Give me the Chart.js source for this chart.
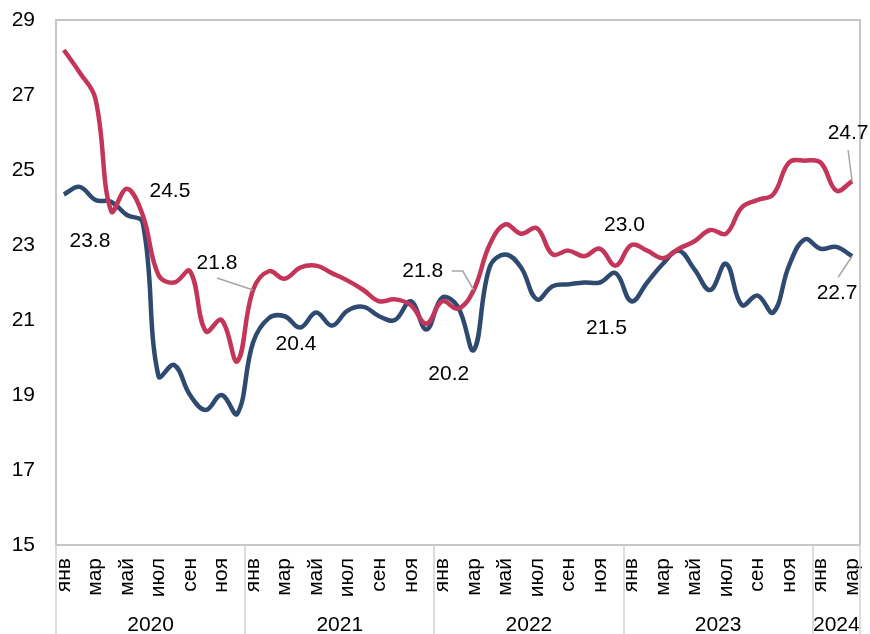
<!DOCTYPE html>
<html>
<head>
<meta charset="utf-8">
<script src="https://cdn.jsdelivr.net/npm/chart.js@4.4.1/dist/chart.umd.min.js"></script>
<style>
    html, body { margin: 0; padding: 0; background: #fff; }
    #wrap { width: 870px; height: 634px; position: relative; }
</style>
</head>
<body>
<div id="wrap"><canvas id="chart"></canvas></div>
<script>
const years = ['2020', '2021', '2022', '2023', '2024']
const monthsInYear = [12, 12, 12, 12, 3]
const monthNames = ['янв', 'фев', 'мар', 'апр', 'май', 'июн', 'июл', 'авг', 'сен', 'окт', 'ноя', 'дек']
const yTicks = [15, 17, 19, 21, 23, 25, 27, 29]

// Jan 2020 .. Mar 2024
const redValues = [
    28.2, 27.6, 26.9, 23.9, 24.5, 23.8, 22.2, 22.0, 22.3, 20.7, 21.0, 19.9,
    21.8, 22.3, 22.1, 22.4, 22.45, 22.25, 22.05, 21.8, 21.5, 21.55, 21.4, 20.9,
    21.5, 21.3, 21.8, 23.0, 23.55, 23.3, 23.45, 22.75, 22.85, 22.7, 22.9, 22.45,
    23.0, 22.85, 22.65, 22.9, 23.1, 23.4, 23.3, 24.0, 24.2, 24.35, 25.2, 25.25,
    25.2, 24.45, 24.7
]
const blueValues = [
    24.35, 24.55, 24.2, 24.15, 23.8, 23.6, 19.5, 19.8, 19.0, 18.6, 19.0, 18.5,
    20.4, 21.05, 21.1, 20.8, 21.2, 20.85, 21.25, 21.35, 21.1, 21.0, 21.5, 20.75,
    21.6, 21.35, 20.2, 22.4, 22.75, 22.4, 21.55, 21.9, 21.95, 22.0, 22.0, 22.25,
    21.5, 22.0, 22.5, 22.85, 22.35, 21.8, 22.5, 21.4, 21.65, 21.2, 22.45, 23.15,
    22.9, 22.95, 22.7
]

// which points get a value label (dataset, index)
const labelledPoints = [
    [0, 4], [1, 4], [0, 12], [1, 12], [0, 26], [1, 26], [0, 36], [1, 36], [0, 50], [1, 50]
]
// where each label sits relative to its point, and its leader line if any
const labelPlacement = [
    {dx: 43, dy: 2},
    {dx: -37, dy: 26},
    {dx: -36, dy: -27, leader: [[-36, -12], [0, 0]]},
    {dx: 43, dy: 2},
    {dx: -51, dy: -19, leader: [[-22, -19], [-11, -19], [0, 0]]},
    {dx: -25, dy: 24},
    {dx: -7, dy: -20},
    {dx: -25, dy: 27},
    {dx: -4, dy: -48, leader: [[-4, -31], [0, 0]]},
    {dx: -15, dy: 37, leader: [[-14, 21], [0, 0]]}
]

const categories = []
years.forEach((y, i) => {
    for (let m = 0; m < monthsInYear[i]; m++) categories.push(monthNames[m])
})

const FONT = "'Liberation Sans', Arial, sans-serif"

const framePlugin = {
    id: 'frame',
    beforeDraw(chart) {
        const ctx = chart.ctx
        ctx.save()
        ctx.fillStyle = '#fff'
        ctx.fillRect(0, 0, chart.width, chart.height)
        ctx.restore()
    },
    beforeDatasetsDraw(chart) {
        const {ctx, chartArea: a, scales: {x}} = chart
        ctx.save()
        ctx.strokeStyle = '#c6c6c6'
        ctx.lineWidth = 2
        ctx.strokeRect(a.left, a.top, a.right - a.left, a.bottom - a.top)

        // year groups under the month labels
        let start = 0
        const edges = [a.left]
        years.forEach((y, i) => {
            const end = start + monthsInYear[i]
            const right = end < categories.length
                ? (x.getPixelForValue(end - 1) + x.getPixelForValue(end)) / 2
                : a.right
            edges.push(right)
            ctx.fillStyle = '#000'
            ctx.font = '21px ' + FONT
            ctx.textAlign = 'center'
            ctx.textBaseline = 'middle'
            ctx.fillText(y, (edges[i] + right) / 2, chart.height - 9)
            start = end
        })
        ctx.lineWidth = 1.5
        ctx.strokeStyle = '#d0d0d0'
        edges.forEach(px => {
            ctx.beginPath()
            ctx.moveTo(Math.round(px), a.bottom)
            ctx.lineTo(Math.round(px), chart.height)
            ctx.stroke()
        })
        ctx.restore()
    }
}

const labelPlugin = {
    id: 'valueLabels',
    afterDatasetsDraw(chart) {
        const ctx = chart.ctx
        ctx.save()
        ctx.font = '21px ' + FONT
        ctx.textAlign = 'center'
        ctx.textBaseline = 'middle'
        labelledPoints.forEach(([ds, idx], i) => {
            const pt = chart.getDatasetMeta(ds).data[idx]
            const place = labelPlacement[i]
            const value = chart.data.datasets[ds].data[idx]
            if (place.leader) {
                ctx.strokeStyle = '#a6a6a6'
                ctx.lineWidth = 1.5
                ctx.beginPath()
                place.leader.forEach(([lx, ly], k) => {
                    if (k === 0) ctx.moveTo(pt.x + lx, pt.y + ly)
                    else ctx.lineTo(pt.x + lx, pt.y + ly)
                })
                ctx.stroke()
            }
            ctx.fillStyle = '#000'
            ctx.fillText(value.toFixed(1), pt.x + place.dx, pt.y + place.dy)
        })
        ctx.restore()
    }
}

new Chart(document.getElementById('chart'), {
    type: 'line',
    data: {
        labels: categories,
        datasets: [
            {
                data: redValues,
                borderColor: '#c33659',
                borderWidth: 4.5,
                pointRadius: 0,
                tension: 0.4,
                fill: false
            },
            {
                data: blueValues,
                borderColor: '#2f4a71',
                borderWidth: 4.5,
                pointRadius: 0,
                tension: 0.4,
                fill: false
            }
        ]
    },
    options: {
        responsive: true,
        maintainAspectRatio: false,
        animation: false,
        layout: {padding: {top: 20, right: 10, left: 0, bottom: 0}},
        plugins: {
            legend: {display: false},
            tooltip: {enabled: false}
        },
        scales: {
            x: {
                offset: true,
                grid: {display: false, drawTicks: false},
                border: {display: false},
                ticks: {
                    autoSkip: false,
                    minRotation: 90,
                    maxRotation: 90,
                    padding: 13,
                    color: '#000',
                    font: {family: FONT, size: 21},
                    callback: (val, i) => i % 2 === 0 ? categories[i] : ''
                },
                afterFit: s => {
                    s.height = 89
                    s.paddingLeft = 0
                    s.paddingRight = 0
                }
            },
            y: {
                min: yTicks[0],
                max: yTicks[yTicks.length - 1],
                grid: {display: false, drawTicks: false},
                border: {display: false},
                afterBuildTicks: s => { s.ticks = yTicks.map(v => ({value: v})) },
                ticks: {
                    padding: 21,
                    color: '#000',
                    font: {family: FONT, size: 21}
                },
                afterFit: s => {
                    s.width = 56
                    s.paddingTop = 0
                    s.paddingBottom = 0
                }
            }
        }
    },
    plugins: [framePlugin, labelPlugin]
})
</script>
</body>
</html>
